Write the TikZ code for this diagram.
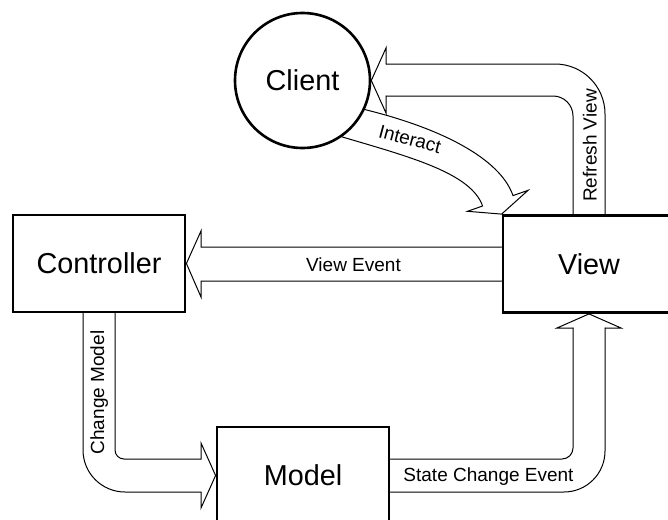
\documentclass[tikz,border=0pt]{standalone}
\usepackage{fontspec}
\setmainfont{Liberation Sans}
\usetikzlibrary{calc}
\begin{document}
\begin{tikzpicture}[x=1pt,y=-1pt,
  box/.style={draw, line width=2.8pt, minimum width=172pt, minimum height=97pt,
    inner sep=0pt, font=\fontsize{28.8}{34}\selectfont},
  actor/.style={draw, circle, line width=2.6pt, minimum size=135pt, inner sep=0pt,
    font=\fontsize{28.8}{34}\selectfont},
  ablock/.style={draw, line width=1pt, line cap=round, line join=miter},
  lbl/.style={inner sep=0pt, font=\fontsize{19}{22}\selectfont}]

\fill[white] (0,0) rectangle (668,519);
\useasboundingbox (0,0) rectangle (668,519);

% participants
\node[actor] (client) at (302.5,80.5) {Client};
\node[box] (ctrl) at (99,263.5) {Controller};
\node[box] (view) at (589,264) {View};
\node[box] (model) at (303,475.5) {Model};

% View Event: view -> controller
\draw[ablock] (view.west |- 0,247) -- (201,247) -- (201,231) -- (ctrl.east)
  -- (201,297) -- (201,281) -- (view.west |- 0,281);

% Change Model: controller -> model
\draw[ablock, rounded corners=42pt] (83,0 |- ctrl.south) -- (83,492) -- (201,492);
\draw[ablock] (201,492) -- (201,508) -- (model.west) -- (201,443) -- (201,459);
\draw[ablock, rounded corners=9pt] (201,459) -- (115,459) -- (115,0 |- ctrl.south);

% State Change Event: model -> view
\draw[ablock, rounded corners=41pt] (model.east |- 0,492) -- (605,492) -- (605,328);
\draw[ablock] (605,328) -- (621,328) -- (view.south) -- (557,328) -- (573,328);
\draw[ablock, rounded corners=11pt] (573,328) -- (573,459) -- (model.east |- 0,459);

% Refresh View: view -> client
\draw[ablock, rounded corners=50pt] (605,0 |- view.north) -- (605,64) -- (386,64);
\draw[ablock] (386,64) -- (386,48) -- (client.east) -- (386,113) -- (386,96);
\draw[ablock, rounded corners=20pt] (386,96) -- (573,96) -- (573,0 |- view.north);

% Interact: client -> view
\draw[ablock] (client.-25) .. controls (440,128) and (500,158) .. (513,195.6)
  -- (528.1,190.3) -- (view.north west) -- (467.5,211.3) -- (482.6,206)
  .. controls (471,173) and (410,157) .. (client.-55);

% arrow labels
\node[lbl, rotate=-15] (tinteract) at (410,139) {Interact};
\node[lbl, anchor=base, rotate=90] (trefresh) at (596.5,145.5) {Refresh View};
\node[lbl] (tviewevent) at (353.5,264.5) {View Event};
\node[lbl, anchor=base, rotate=90] (tchange) at (104,392.5) {Change Model};
\node[lbl, anchor=base] (tstate) at (488.5,481.8) {State Change Event};
\end{tikzpicture}
\end{document}
